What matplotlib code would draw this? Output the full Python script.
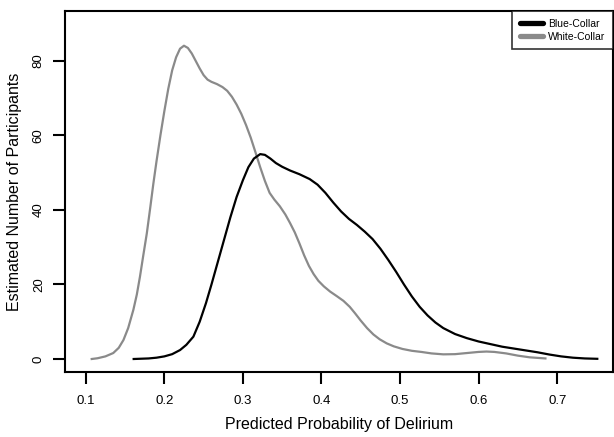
import matplotlib
matplotlib.use("Agg")
import matplotlib.pyplot as plt
from matplotlib.lines import Line2D

plt.rcParams['font.family'] = ['Liberation Sans', 'DejaVu Sans']

# Blue-Collar density curve
blue_x = [0.161, 0.18, 0.19, 0.20, 0.21, 0.22, 0.228, 0.237, 0.245, 0.253, 0.26, 0.268,
          0.276, 0.284, 0.292, 0.30, 0.307, 0.314, 0.322, 0.328, 0.335, 0.342, 0.35,
          0.36, 0.372, 0.385, 0.395, 0.405, 0.415, 0.425, 0.435, 0.445, 0.455, 0.465,
          0.475, 0.485, 0.495, 0.505, 0.515, 0.525, 0.535, 0.545, 0.555, 0.57, 0.585,
          0.60, 0.615, 0.63, 0.645, 0.66, 0.675, 0.69, 0.705, 0.72, 0.735, 0.751]
blue_y = [0.0, 0.15, 0.35, 0.7, 1.3, 2.4, 3.8, 6.0, 10.0, 15.0, 20.0, 26.0,
          32.0, 38.0, 43.5, 48.0, 51.5, 53.8, 55.0, 54.8, 53.8, 52.6, 51.6,
          50.6, 49.6, 48.3, 46.8, 44.6, 42.0, 39.6, 37.6, 36.0, 34.2, 32.2,
          29.6, 26.6, 23.4, 20.0, 16.8, 14.0, 11.7, 9.8, 8.3, 6.7, 5.6,
          4.7, 4.0, 3.3, 2.8, 2.3, 1.8, 1.2, 0.7, 0.35, 0.15, 0.05]

# White-Collar density curve
white_x = [0.1076, 0.115, 0.125, 0.135, 0.142, 0.148, 0.154, 0.1606, 0.165, 0.169,
           0.173, 0.1777, 0.182, 0.186, 0.19, 0.195, 0.20, 0.205, 0.21, 0.215, 0.22,
           0.225, 0.23, 0.235, 0.24, 0.245, 0.25, 0.255, 0.26, 0.267, 0.274, 0.28,
           0.286, 0.292, 0.298, 0.304, 0.31, 0.316, 0.322, 0.328, 0.334, 0.34, 0.347,
           0.354, 0.36, 0.366, 0.372, 0.378, 0.384, 0.39, 0.396, 0.403, 0.411, 0.42,
           0.428, 0.436, 0.443, 0.45, 0.458, 0.466, 0.474, 0.483, 0.492, 0.503, 0.515,
           0.527, 0.54, 0.555, 0.57, 0.585, 0.60, 0.61, 0.62, 0.635, 0.65, 0.665, 0.685]
white_y = [0.0, 0.2, 0.7, 1.6, 3.0, 5.1, 8.3, 13.2, 17.3, 22.1,
           27.5, 33.7, 40.5, 47.0, 53.0, 60.0, 66.5, 72.5, 77.5, 81.0, 83.3,
           84.1, 83.5, 82.0, 80.0, 78.0, 76.2, 75.0, 74.4, 73.8, 73.0, 72.0,
           70.4, 68.3, 65.8, 62.8, 59.4, 55.5, 51.5, 47.8, 44.6, 42.8, 41.0,
           38.8, 36.5, 34.0, 31.0, 27.8, 25.0, 22.8, 21.0, 19.5, 18.1, 16.8,
           15.6, 14.0, 12.2, 10.3, 8.3, 6.6, 5.3, 4.2, 3.4, 2.7, 2.2,
           1.9, 1.5, 1.25, 1.3, 1.6, 1.9, 2.0, 1.9, 1.5, 0.9, 0.45, 0.15]

x_ticks = [0.1, 0.2, 0.3, 0.4, 0.5, 0.6, 0.7]
y_ticks = [0, 20, 40, 60, 80]

fig = plt.figure(figsize=(6.14, 4.37), dpi=100)
ax = fig.add_axes([65/614, (437-372)/437, (613-65)/614, (372-10.7)/437])

ax.plot(white_x, white_y, color='#8a8a8a', lw=1.6, solid_joinstyle='round')
ax.plot(blue_x, blue_y, color='black', lw=1.6, solid_joinstyle='round')

ax.set_xlim(0.0736, 0.771)
ax.set_ylim(-3.49, 93.5)
ax.set_xticks(x_ticks)
ax.set_xticklabels([f"{v:.1f}" for v in x_ticks])
ax.set_yticks(y_ticks)
ax.set_yticklabels([str(v) for v in y_ticks], rotation=90, va='center')

for s in ax.spines.values():
    s.set_linewidth(1.5)
ax.tick_params(direction='out', length=8.5, width=1.5, labelsize=9.5, pad=6)
ax.tick_params(axis='x', pad=8)

ax.set_xlabel("Predicted Probability of Delirium", fontsize=11.5, labelpad=7)
ax.set_ylabel("Estimated Number of Participants", fontsize=11.5, labelpad=8)

handles = [Line2D([0], [0], color='black', lw=3.8, solid_capstyle='round'),
           Line2D([0], [0], color='#8a8a8a', lw=3.8, solid_capstyle='round')]
leg = ax.legend(handles, ['Blue-Collar', 'White-Collar'], loc='upper right',
                bbox_to_anchor=(1.0, 1.0), borderaxespad=0, fontsize=7.5,
                frameon=True, fancybox=False, handlelength=2.2, handletextpad=0.5,
                borderpad=0.75, labelspacing=0.3)
leg.get_frame().set_edgecolor('black')
leg.get_frame().set_linewidth(1.2)

fig.savefig("out.png", dpi=100)
